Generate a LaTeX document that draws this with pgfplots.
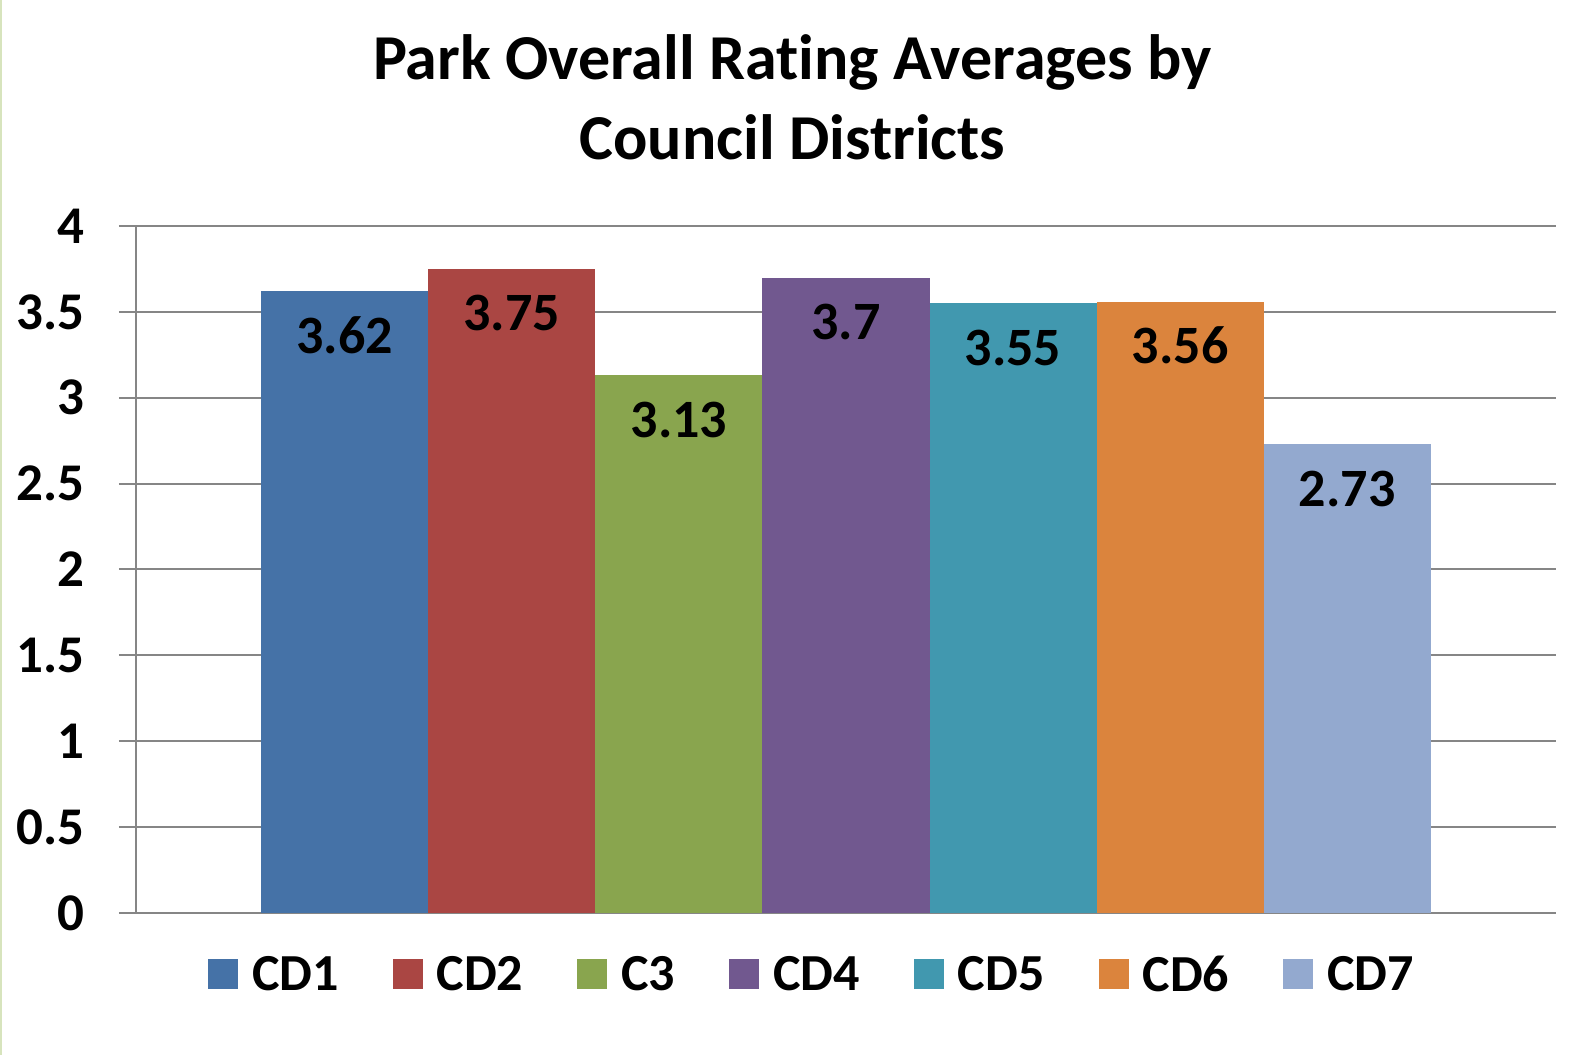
\documentclass[border=0pt]{standalone}
\usepackage{fontspec}
\setmainfont[Ligatures=NoCommon]{Carlito}
\usepackage{pgfplots}
\pgfplotsset{compat=1.18}
\definecolor{cA}{HTML}{4572A7}
\definecolor{cB}{HTML}{AA4643}
\definecolor{cC}{HTML}{89A54E}
\definecolor{cD}{HTML}{71588F}
\definecolor{cE}{HTML}{4198AF}
\definecolor{cF}{HTML}{DB843D}
\definecolor{cG}{HTML}{93A9CF}
\definecolor{gridg}{HTML}{868686}
\definecolor{edgeg}{HTML}{D7E4BD}
\begin{document}
\begin{tikzpicture}
\useasboundingbox (0pt,0pt) rectangle (1585pt,1055pt);
\fill[edgeg] (0pt,0pt) rectangle (2pt,1055pt);
\begin{axis}[
  at={(136pt,142pt)}, anchor=south west,
  scale only axis, width=1420pt, height=687pt,
  xmin=-1.25, xmax=7.25, ymin=0, ymax=4,
  ytick={0,0.5,...,4},
  xtick=\empty,
  axis lines*=left,
  axis line style={gridg, line width=2pt},
  ymajorgrids,
  grid style={gridg, line width=2pt},
  tick style={gridg, line width=2pt},
  tick align=outside,
  major tick length=17pt,
  /pgf/number format/assume math mode=true,
  yticklabel style={font=\bfseries\fontsize{53}{63}\selectfont, inner sep=0pt, xshift=-34pt},
  ybar, bar width=1, bar shift=0pt,
  every axis plot/.append style={draw=none},
  nodes near coords,
  nodes near coords style={font=\bfseries\fontsize{54}{64}\selectfont, text=black, anchor=base, yshift=-62pt, inner sep=0pt},
  legend columns=7,
  legend cell align=left,
  legend image code/.code={\fill[#1] (0pt,-15pt) rectangle (30pt,15pt);},
  legend style={draw=none, fill=none, inner sep=0pt, outer sep=0pt,
    at={(axis description cs:0.0507,-0.0895)}, anchor=west,
    font=\bfseries\fontsize{52}{62}\selectfont,
    nodes={inner sep=0pt},
    /tikz/every odd column/.append style={column sep=14pt},
    /tikz/every even column/.append style={column sep=54pt}},
]
\addplot[fill=cA, draw=none] coordinates {(0,3.62)};
\addplot[fill=cB, draw=none] coordinates {(1,3.75)};
\addplot[fill=cC, draw=none] coordinates {(2,3.13)};
\addplot[fill=cD, draw=none] coordinates {(3,3.70)};
\addplot[fill=cE, draw=none] coordinates {(4,3.55)};
\addplot[fill=cF, draw=none] coordinates {(5,3.56)};
\addplot[fill=cG, draw=none] coordinates {(6,2.73)};
\legend{CD1,CD2,C3,CD4,CD5,CD6,CD7}
\end{axis}
\node[anchor=base, inner sep=0pt, font=\bfseries\fontsize{64}{80}\selectfont] at (792.5pt,975pt) {Park Overall Rating Averages by};
\node[anchor=base, inner sep=0pt, font=\bfseries\fontsize{64}{80}\selectfont] at (792.5pt,895pt) {Council Districts};
\end{tikzpicture}
\end{document}
